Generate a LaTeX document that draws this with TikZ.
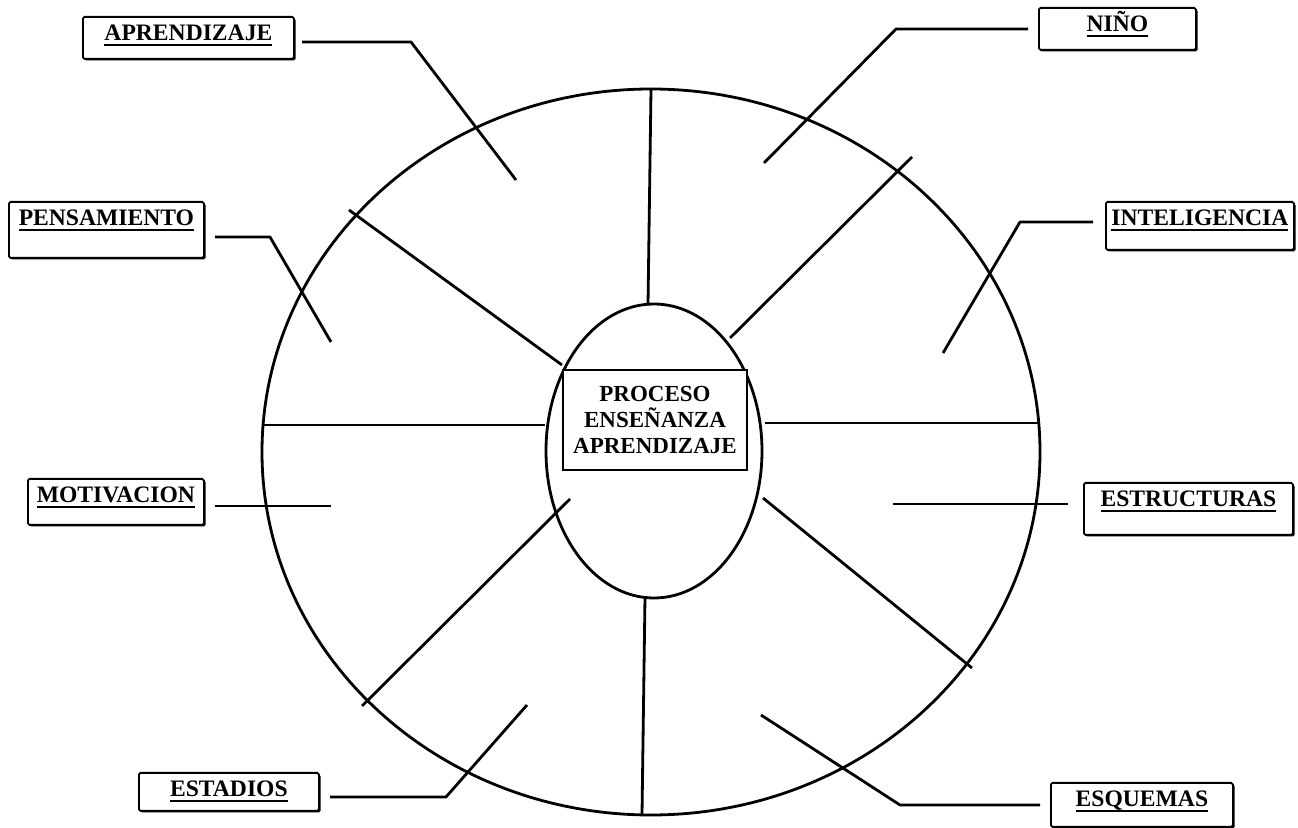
\documentclass[tikz,border=0pt]{standalone}
\usepackage{fontspec}
\setmainfont{Liberation Serif}
\usetikzlibrary{shadows}
\newcommand\ulx[1]{\setbox0\hbox{#1}\rlap{\rule[-2.4pt]{\wd0}{0.9pt}}\box0}
\begin{document}
\begin{tikzpicture}[x=0.5pt,y=-0.5pt,
  ln/.style={line width=1.4pt, line join=round},
  lbl/.style={draw, line width=0.9pt, fill=white, rounded corners=0.8pt, inner sep=0pt,
    text height=12pt, anchor=north west, font=\fontsize{11.8}{13}\selectfont\bfseries,
    drop shadow={shadow xshift=0.8pt, shadow yshift=-0.8pt, fill=black, opacity=1}},
  ctr/.style={draw, line width=0.9pt, fill=white, inner sep=0pt, align=center,
    minimum width=92pt, minimum height=50pt, font=\fontsize{11.5}{13}\selectfont\bfseries,
    drop shadow={shadow xshift=0.6pt, shadow yshift=-0.6pt, fill=black, opacity=1}}]
\useasboundingbox (0,0) rectangle (1298,828);
\fill[white] (0,0) rectangle (1298,828);

% big ellipse and inner ellipse
\coordinate (C) at (651,452);
\coordinate (c) at (654,451);
\draw[ln] (C) ellipse [x radius=194.5pt, y radius=181.5pt];
\draw[ln] (c) ellipse [x radius=54pt, y radius=73.5pt];

% spokes
\coordinate (s1o) at (651,90);  \coordinate (s1i) at (648,305);
\coordinate (s2o) at (912,157); \coordinate (s2i) at (730,338);
\coordinate (s3o) at (1040,423);\coordinate (s3i) at (765,423);
\coordinate (s4o) at (972,668); \coordinate (s4i) at (763,498);
\coordinate (s5o) at (642,815); \coordinate (s5i) at (645,597);
\coordinate (s6o) at (362,706); \coordinate (s6i) at (570,499);
\coordinate (s7o) at (262,425); \coordinate (s7i) at (545,425);
\coordinate (s8o) at (349,210); \coordinate (s8i) at (562,365);
\foreach \i in {1,...,8} \draw[ln] (s\i o) -- (s\i i);

% center box
\node[ctr] (centro) at (655,420) {PROCESO\\ENSEÑANZA\\APRENDIZAJE};

% label boxes
\node[lbl, minimum width=105.5pt, text depth=9pt] (aprend) at (82,16) {\ulx{APRENDIZAJE}};
\node[lbl, minimum width=78.5pt, text depth=9pt] (nino) at (1038,7) {\ulx{NIÑO}};
\node[lbl, minimum width=97.5pt, text depth=16pt] (pensa) at (8,201) {\ulx{PENSAMIENTO}};
\node[lbl, minimum width=94pt, text depth=12pt] (intel) at (1105,201) {\ulx{INTELIGENCIA}};
\node[lbl, minimum width=88pt, text depth=11pt] (motiv) at (27,478) {\ulx{MOTIVACION}};
\node[lbl, minimum width=104.5pt, text depth=14pt] (estru) at (1083,482) {\ulx{ESTRUCTURAS}};
\node[lbl, minimum width=90pt, text depth=7pt] (estad) at (138,772) {\ulx{ESTADIOS}};
\node[lbl, minimum width=91pt, text depth=10pt] (esque) at (1050,782) {\ulx{ESQUEMAS}};

% leader lines
\coordinate (a1) at (302,42);  \coordinate (a2) at (411,42);  \coordinate (a3) at (516,180);
\coordinate (n1) at (1028,29); \coordinate (n2) at (896,29);  \coordinate (n3) at (764,163);
\coordinate (i1) at (1093,222);\coordinate (i2) at (1020,222);\coordinate (i3) at (943,353);
\coordinate (p1) at (215,237); \coordinate (p2) at (270,237); \coordinate (p3) at (331,342);
\coordinate (m1) at (215,506); \coordinate (m2) at (331,506);
\coordinate (e1) at (1068,504);\coordinate (e2) at (893,504);
\coordinate (d1) at (330,797); \coordinate (d2) at (446,797); \coordinate (d3) at (527,705);
\coordinate (q1) at (1040,805);\coordinate (q2) at (900,805); \coordinate (q3) at (761,715);
\draw[ln] (a1) -- (a2) -- (a3);
\draw[ln] (n1) -- (n2) -- (n3);
\draw[ln] (i1) -- (i2) -- (i3);
\draw[ln] (p1) -- (p2) -- (p3);
\draw[ln] (m1) -- (m2);
\draw[ln] (e1) -- (e2);
\draw[ln] (d1) -- (d2) -- (d3);
\draw[ln] (q1) -- (q2) -- (q3);
\end{tikzpicture}
\end{document}
